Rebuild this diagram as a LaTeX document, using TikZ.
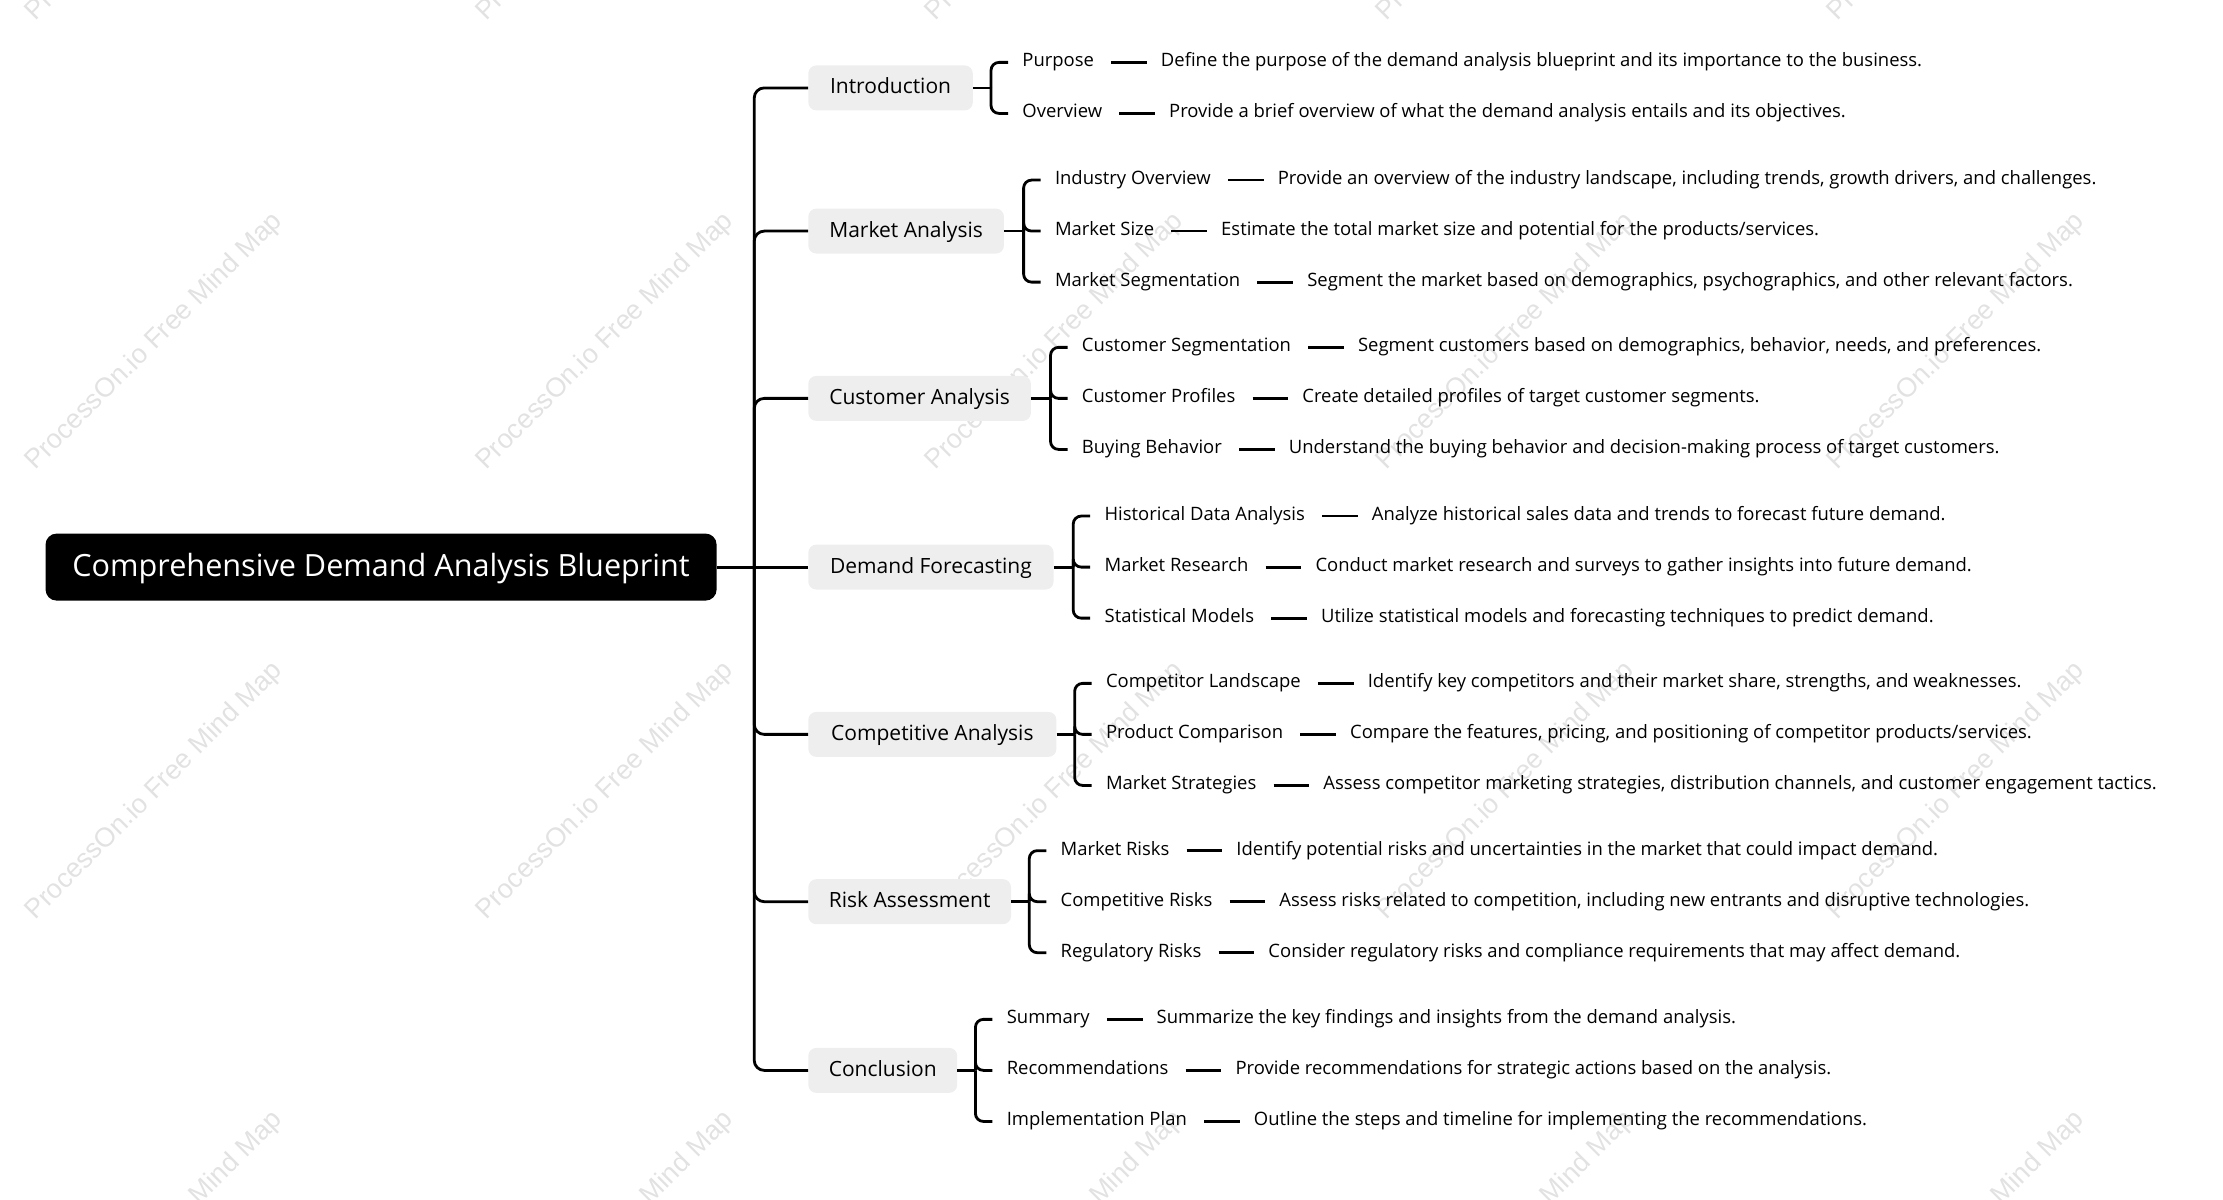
\documentclass[tikz,border=0pt]{standalone}
\usepackage{fontspec}
\setmainfont{Open Sans}
\newfontfamily\wmfont{Liberation Sans}
\usetikzlibrary{calc}
\definecolor{boxgray}{HTML}{EEEEEE}
\definecolor{wmgray}{HTML}{E2E2E2}
\begin{document}
\begin{tikzpicture}[x=1.4177pt,y=-1.4177pt,
  rootbox/.style={fill=black, text=white, rounded corners=11pt, minimum width=671pt, minimum height=67pt, inner sep=0pt, text height=21pt, text depth=2pt, font=\fontsize{30.6}{36}\selectfont, anchor=west},
  lvlone/.style={fill=boxgray, rounded corners=8pt, minimum height=45pt, inner sep=0pt, text height=16pt, text depth=4pt, font=\fontsize{21}{25}\selectfont, anchor=west},
  lvltwo/.style={inner sep=0pt, anchor=west, text height=13pt, text depth=4pt, font=\fontsize{18.45}{22}\selectfont},
  desc/.style={inner sep=0pt, anchor=west, text height=13pt, text depth=4pt, font=\fontsize{18.45}{22}\selectfont},
  trunk/.style={line width=2.8pt, rounded corners=10pt},
  brk/.style={line width=2.8pt, rounded corners=8pt},
  dashln/.style={line width=2.8pt, shorten <=17pt, shorten >=14pt},
  wm/.style={text=wmgray, rotate=45, font=\wmfont\fontsize{27}{32}\selectfont, inner sep=0pt}
]
\useasboundingbox (0,0) rectangle (1568,846);
% watermark
\begin{scope}
\clip (0,0) rectangle (1568,846);
\foreach \wx in {109,427,744,1062,1380}{
  \foreach \wy in {-76,241,558,875}{
    \node[wm] at (\wx,\wy) {ProcessOn.io Free Mind Map};
  }
}
\end{scope}

% root
\node[rootbox] (root) at (32,400) {Comprehensive Demand Analysis Blueprint};

% level 1
\node[lvlone, minimum width=164.5pt] (intro) at (570,62) {Introduction};
\node[lvlone, minimum width=195.6pt] (mkt) at (570,163) {Market Analysis};
\node[lvlone, minimum width=222.6pt] (cust) at (570,281) {Customer Analysis};
\node[lvlone, minimum width=245.3pt] (dem) at (570,400) {Demand Forecasting};
\node[lvlone, minimum width=248.1pt] (comp) at (570,518) {Competitive Analysis};
\node[lvlone, minimum width=202.7pt] (risk) at (570,636) {Risk Assessment};
\node[lvlone, minimum width=148.9pt] (concl) at (570,755) {Conclusion};

% trunk
\coordinate (tj) at (532,400);
\draw[trunk] (root.east) -- (dem.west);
\foreach \n in {intro,mkt,cust,comp,risk,concl}{
  \draw[trunk] (tj) |- (\n.west);
}

% Introduction
\node[lvltwo] (i1) at (721,44) {Purpose};
\node[lvltwo] (i2) at (721,80) {Overview};
\node[desc] (i1d) at ($(i1.east)+(47,0)$) {Define the purpose of the demand analysis blueprint and its importance to the business.};
\node[desc] (i2d) at ($(i2.east)+(47,0)$) {Provide a brief overview of what the demand analysis entails and its objectives.};
\coordinate (bi) at (699,62);
\draw[brk] (intro.east) -- (bi);
\foreach \c in {i1,i2}{\draw[brk] (bi) |- ($(\c.west)+(-10,0)$); \draw[dashln] (\c.east) -- (\c d.west);}

% Market Analysis
\node[lvltwo] (m1) at (744,127) {Industry Overview};
\node[lvltwo] (m2) at (744,163) {Market Size};
\node[lvltwo] (m3) at (744,199) {Market Segmentation};
\node[desc] (m1d) at ($(m1.east)+(47,0)$) {Provide an overview of the industry landscape, including trends, growth drivers, and challenges.};
\node[desc] (m2d) at ($(m2.east)+(47,0)$) {Estimate the total market size and potential for the products/services.};
\node[desc] (m3d) at ($(m3.east)+(47,0)$) {Segment the market based on demographics, psychographics, and other relevant factors.};
\coordinate (bm) at (722,163);
\draw[brk] (mkt.east) -- (bm);
\foreach \c in {m1,m2,m3}{\draw[brk] (bm) |- ($(\c.west)+(-10,0)$); \draw[dashln] (\c.east) -- (\c d.west);}

% Customer Analysis
\node[lvltwo] (c1) at (763,245) {Customer Segmentation};
\node[lvltwo] (c2) at (763,281) {Customer Profiles};
\node[lvltwo] (c3) at (763,317) {Buying Behavior};
\node[desc] (c1d) at ($(c1.east)+(47,0)$) {Segment customers based on demographics, behavior, needs, and preferences.};
\node[desc] (c2d) at ($(c2.east)+(47,0)$) {Create detailed profiles of target customer segments.};
\node[desc] (c3d) at ($(c3.east)+(47,0)$) {Understand the buying behavior and decision-making process of target customers.};
\coordinate (bc) at (741,281);
\draw[brk] (cust.east) -- (bc);
\foreach \c in {c1,c2,c3}{\draw[brk] (bc) |- ($(\c.west)+(-10,0)$); \draw[dashln] (\c.east) -- (\c d.west);}

% Demand Forecasting
\node[lvltwo] (d1) at (779,364) {Historical Data Analysis};
\node[lvltwo] (d2) at (779,400) {Market Research};
\node[lvltwo] (d3) at (779,436) {Statistical Models};
\node[desc] (d1d) at ($(d1.east)+(47,0)$) {Analyze historical sales data and trends to forecast future demand.};
\node[desc] (d2d) at ($(d2.east)+(47,0)$) {Conduct market research and surveys to gather insights into future demand.};
\node[desc] (d3d) at ($(d3.east)+(47,0)$) {Utilize statistical models and forecasting techniques to predict demand.};
\coordinate (bd) at (757,400);
\draw[brk] (dem.east) -- (bd);
\foreach \c in {d1,d2,d3}{\draw[brk] (bd) |- ($(\c.west)+(-10,0)$); \draw[dashln] (\c.east) -- (\c d.west);}

% Competitive Analysis
\node[lvltwo] (k1) at (780,482) {Competitor Landscape};
\node[lvltwo] (k2) at (780,518) {Product Comparison};
\node[lvltwo] (k3) at (780,554) {Market Strategies};
\node[desc] (k1d) at ($(k1.east)+(47,0)$) {Identify key competitors and their market share, strengths, and weaknesses.};
\node[desc] (k2d) at ($(k2.east)+(47,0)$) {Compare the features, pricing, and positioning of competitor products/services.};
\node[desc] (k3d) at ($(k3.east)+(47,0)$) {Assess competitor marketing strategies, distribution channels, and customer engagement tactics.};
\coordinate (bk) at (758,518);
\draw[brk] (comp.east) -- (bk);
\foreach \c in {k1,k2,k3}{\draw[brk] (bk) |- ($(\c.west)+(-10,0)$); \draw[dashln] (\c.east) -- (\c d.west);}

% Risk Assessment
\node[lvltwo] (r1) at (748,600) {Market Risks};
\node[lvltwo] (r2) at (748,636) {Competitive Risks};
\node[lvltwo] (r3) at (748,672) {Regulatory Risks};
\node[desc] (r1d) at ($(r1.east)+(47,0)$) {Identify potential risks and uncertainties in the market that could impact demand.};
\node[desc] (r2d) at ($(r2.east)+(47,0)$) {Assess risks related to competition, including new entrants and disruptive technologies.};
\node[desc] (r3d) at ($(r3.east)+(47,0)$) {Consider regulatory risks and compliance requirements that may affect demand.};
\coordinate (br) at (726,636);
\draw[brk] (risk.east) -- (br);
\foreach \c in {r1,r2,r3}{\draw[brk] (br) |- ($(\c.west)+(-10,0)$); \draw[dashln] (\c.east) -- (\c d.west);}

% Conclusion
\node[lvltwo] (s1) at (710,719) {Summary};
\node[lvltwo] (s2) at (710,755) {Recommendations};
\node[lvltwo] (s3) at (710,791) {Implementation Plan};
\node[desc] (s1d) at ($(s1.east)+(47,0)$) {Summarize the key findings and insights from the demand analysis.};
\node[desc] (s2d) at ($(s2.east)+(47,0)$) {Provide recommendations for strategic actions based on the analysis.};
\node[desc] (s3d) at ($(s3.east)+(47,0)$) {Outline the steps and timeline for implementing the recommendations.};
\coordinate (bs) at (688,755);
\draw[brk] (concl.east) -- (bs);
\foreach \c in {s1,s2,s3}{\draw[brk] (bs) |- ($(\c.west)+(-10,0)$); \draw[dashln] (\c.east) -- (\c d.west);}
\end{tikzpicture}
\end{document}
